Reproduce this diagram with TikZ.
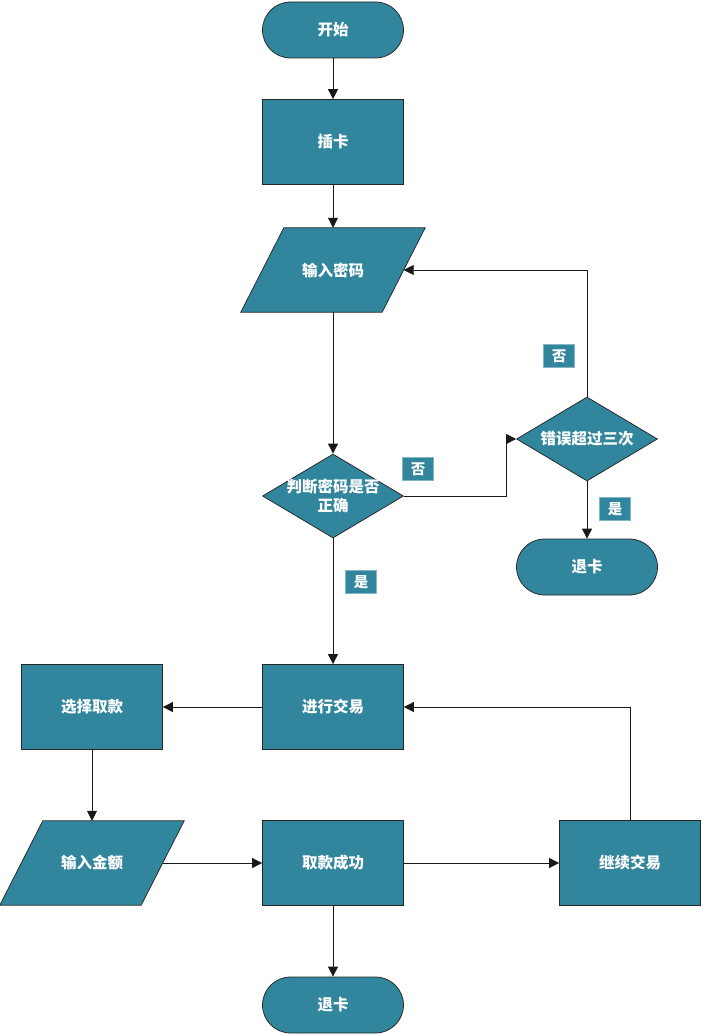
\documentclass[tikz,border=0pt]{standalone}
\usepackage{fontspec}
\setmainfont{Noto Sans CJK SC}
\usetikzlibrary{shapes.geometric,arrows.meta,backgrounds}
\definecolor{teal1}{HTML}{31859C}
\definecolor{lab}{HTML}{31859C}
\tikzset{
  base/.style={fill=teal1,draw=black!85,line width=0.75pt,text=white,font=\fontsize{15.5}{19}\selectfont\bfseries,inner sep=0pt},
  termbox/.style={base,rectangle,rounded corners=28pt,minimum width=141pt,minimum height=56pt},
  procbox/.style={base,rectangle,minimum width=141pt,minimum height=85pt},
  iotext/.style={rectangle,text=white,font=\fontsize{15.5}{19}\selectfont\bfseries,inner sep=0pt,minimum width=141pt,minimum height=84pt},
  ioshape/.style={fill=teal1,draw=black!85,line width=0.75pt},
  decbox/.style={base,diamond,minimum width=141pt,minimum height=84pt,aspect=1.68},
  dectext/.style={text=white,font=\fontsize{15.5}{19}\selectfont\bfseries,inner sep=0pt,align=center},
  tag/.style={fill=lab,draw=lab!60,line width=0.5pt,text=white,font=\fontsize{14.5}{17}\selectfont\bfseries,minimum width=31pt,minimum height=23pt,inner sep=0pt},
  conn/.style={draw=black!90,line width=0.75pt,-{Triangle[length=10pt,width=10pt]}}
}
\begin{document}
\begin{tikzpicture}[x=1pt,y=-1pt]
\useasboundingbox (0,0) rectangle (702,1035);
\node[termbox] (start) at (333,30) {开始};
\node[procbox] (card) at (333,142) {插卡};
\node[iotext] (pwd) at (333,270) {输入密码};
\node[decbox] (d1) at (333,496) {};
\node[dectext] (d1t) at (333,496) {判断密码是否\\正确};
\node[decbox] (d2) at (587,439) {};
\node[dectext] (d2t) at (587,439) {错误超过三次};
\node[termbox] (exit1) at (587,567) {退卡};
\node[procbox] (trade) at (333,707) {进行交易};
\node[procbox] (select) at (92,707) {选择取款};
\node[iotext] (amount) at (92,863) {输入金额};
\node[procbox] (success) at (333,863) {取款成功};
\node[procbox] (cont) at (630,863) {继续交易};
\node[termbox] (exit2) at (333,1005) {退卡};

\begin{scope}[on background layer]
\foreach \n in {pwd,amount}{
  \filldraw[ioshape] ([xshift=21.5pt]\n.north west) -- ([xshift=21.5pt]\n.north east)
    -- ([xshift=-21.5pt]\n.south east) -- ([xshift=-21.5pt]\n.south west) -- cycle;
}
\end{scope}

\node[tag] (no1) at (418,469) {否};
\node[tag] (no2) at (559,356) {否};
\node[tag] (yes2) at (615,509) {是};
\node[tag] (yes1) at (361,582) {是};

\coordinate (k1) at (506,439);
\draw[conn] (start) -- (card);
\draw[conn] (card) -- (pwd);
\draw[conn] (pwd) -- (d1);
\draw[conn] (d1.east) -| (k1) -- (d2.west);
\draw[conn] (d2.north) |- (pwd);
\draw[conn] (d2) -- (exit1);
\draw[conn] (d1) -- (trade);
\draw[conn] (trade) -- (select);
\draw[conn] (select) -- (amount);
\draw[conn] (amount) -- (success);
\draw[conn] (success) -- (cont);
\draw[conn] (cont) |- (trade);
\draw[conn] (success) -- (exit2);
\end{tikzpicture}
\end{document}
